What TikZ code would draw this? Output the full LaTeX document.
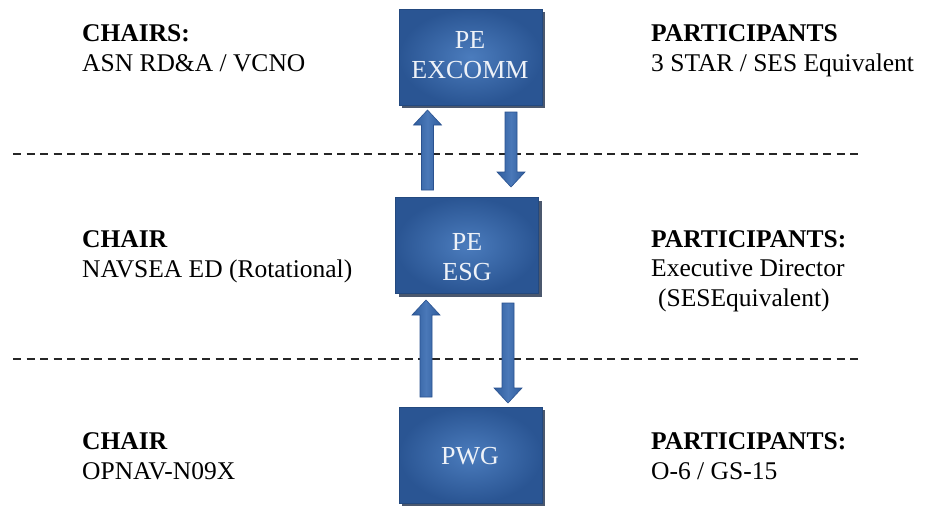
\documentclass[tikz,border=0pt]{standalone}
\usepackage{fontspec}
\setmainfont{Liberation Serif}
\usetikzlibrary{calc,shadows}
\definecolor{boxin}{HTML}{4B7CBD}
\definecolor{boxout}{HTML}{2A5593}
\definecolor{boxedge}{HTML}{23497F}
\definecolor{shadowc}{HTML}{1E2F4A}
\definecolor{arrmid}{HTML}{4A78B8}
\definecolor{arredge}{HTML}{2F5D9D}
\definecolor{arrline}{HTML}{2A5290}
\definecolor{boxtxt}{HTML}{EEF2F8}
\newcommand{\blkarrow}[2]{%
  \coordinate (hb) at ($(#2)!15pt!(#1)$);
  \path[blk] ($(#1)!6pt!90:(#2)$) -- ($(hb)!6pt!-90:(#1)$) -- ($(hb)!14pt!-90:(#1)$)
    -- (#2) -- ($(hb)!14pt!90:(#1)$) -- ($(hb)!6pt!90:(#1)$) -- ($(#1)!6pt!-90:(#2)$) -- cycle;}
\begin{document}
\begin{tikzpicture}[x=1pt,y=-1pt,
  orgbox/.style={draw=boxedge, line width=0.8pt, shading=radial, inner color=boxin,
    outer color=boxout, minimum width=143pt, minimum height=96pt, inner sep=0pt,
    general shadow={shadow xshift=3pt, shadow yshift=-3pt, fill=shadowc, opacity=0.8}},
  boxtext/.style={text=boxtxt, align=center, font=\fontsize{26}{30}\selectfont, inner sep=0pt},
  lbl/.style={anchor=base west, align=left, font=\fontsize{25.5}{29.5}\selectfont, inner sep=0pt},
  divider/.style={dash pattern=on 8pt off 5.5pt, line width=1.8pt, black!85},
  blk/.style={draw=arrline, line width=0.6pt, left color=arredge, right color=arredge, middle color=arrmid}]
\useasboundingbox (0,0) rectangle (927,506);
\fill[white] (0,0) rectangle (927,506);

% dividers
\draw[divider] (13,154) -- (859,154);
\draw[divider] (13,359) -- (859,359);

% boxes
\node[orgbox] (ex) at (470.5,57) {};
\node[orgbox] (esg) at (467,245.5) {};
\node[orgbox] (pwg) at (470.5,455) {};
\node[boxtext] (extxt) at (470,55) {PE\\EXCOMM};
\node[boxtext] (esgtxt) at (467,257) {PE\\ESG};
\node[boxtext] (pwgtxt) at (470,456) {PWG};

% arrow end points
\coordinate (u1a) at (427.5,190);
\coordinate (u1b) at (427.5,110);
\coordinate (d1a) at (511,112);
\coordinate (d1b) at (511,187);
\coordinate (u2a) at (426,397);
\coordinate (u2b) at (426,300);
\coordinate (d2a) at (508,303);
\coordinate (d2b) at (508,403);
\blkarrow{u1a}{u1b}
\blkarrow{d1a}{d1b}
\blkarrow{u2a}{u2b}
\blkarrow{d2a}{d2b}

% labels (anchored at the baseline of the last line)
\node[lbl] (c1) at (82,71) {\textbf{CHAIRS:}\\ASN RD\&A / VCNO};
\node[lbl] (p1) at (651,71) {\textbf{PARTICIPANTS}\\3 STAR / SES Equivalent};
\node[lbl] (c2) at (82,277) {\textbf{CHAIR}\\NAVSEA ED (Rotational)};
\node[lbl] (p2) at (651,306) {\textbf{PARTICIPANTS:}\\Executive Director\\\hspace{7pt}(SESEquivalent)};
\node[lbl] (c3) at (82,479) {\textbf{CHAIR}\\OPNAV-N09X};
\node[lbl] (p3) at (651,479) {\textbf{PARTICIPANTS:}\\O-6 / GS-15};
\end{tikzpicture}
\end{document}
